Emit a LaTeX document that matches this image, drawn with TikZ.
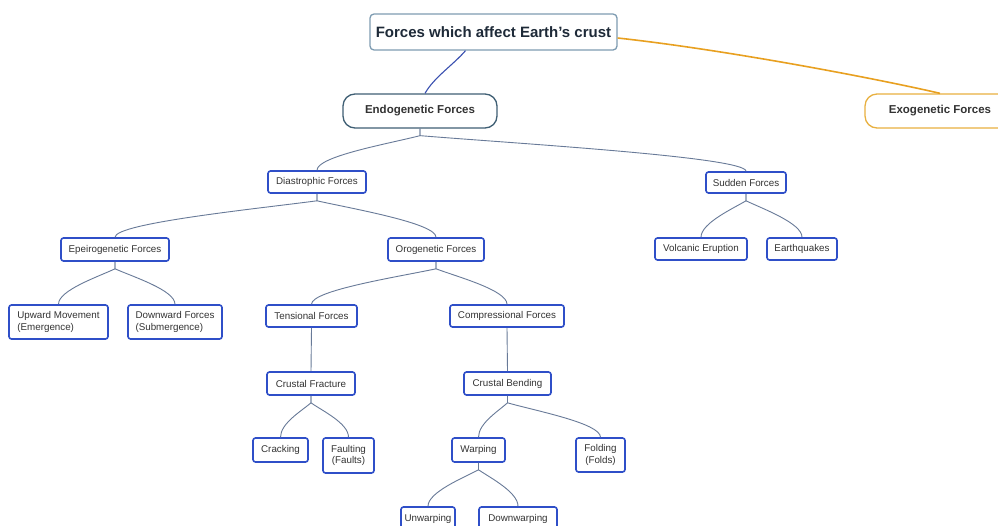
\documentclass[tikz,border=0pt]{standalone}
\usepackage{fontspec}
\setmainfont{Liberation Sans}
\usetikzlibrary{calc}
\definecolor{boxblue}{HTML}{2F4FC8}
\definecolor{linegray}{HTML}{687A98}
\definecolor{rootedge}{HTML}{7E9CB2}
\definecolor{endoedge}{HTML}{3F5F74}
\definecolor{exoedge}{HTML}{E8B040}
\definecolor{exoline}{HTML}{E8A020}
\definecolor{rootline}{HTML}{3A50B0}
\definecolor{txtdark}{HTML}{1E2A38}
\tikzset{
  leaf/.style={draw=boxblue, line width=1.6pt, rounded corners=2.5pt, fill=white,
    inner sep=0pt, text=black!80, font=\fontsize{9.8}{11.5}\selectfont, align=center},
  rootbox/.style={draw=rootedge, line width=1.3pt, rounded corners=4pt, fill=white,
    inner sep=0pt, text=txtdark, font=\fontsize{15}{18}\selectfont\bfseries,
    minimum width=247pt, minimum height=36pt},
  mainbox/.style={line width=1.3pt, rounded corners=12pt, fill=white, inner sep=0pt,
    text=black!80, font=\fontsize{11.5}{14}\selectfont\bfseries,
    minimum height=34pt},
  branch/.style={draw=linegray, line width=0.9pt},
}
\newcommand\branchto[2]{\draw[branch] let \p1=(#1.south), \p2=(#2.north) in
  (\p1) -- (\x1,\y1-7pt) .. controls (\x1+0.3*\x2-0.3*\x1,\y1-15pt) and (\x2,\y2+14pt) .. (\p2);}
\begin{document}
\begin{tikzpicture}[x=1pt,y=1pt]
\useasboundingbox (0,0) rectangle (998,-525);
\fill[white] (0,0) rectangle (998,-525);

% top level
\node[rootbox] (root) at (493.5,-32) {Forces which affect Earth's crust};
\node[mainbox, draw=endoedge, minimum width=154pt] (endo) at (420,-111) {Endogenetic Forces};
\node[mainbox, draw=exoedge, minimum width=150pt] (exo) at (940,-111) {Exogenetic Forces};

% level 2
\node[leaf, minimum width=98pt, minimum height=22pt] (dias) at (317,-182) {Diastrophic Forces};
\node[leaf, minimum width=80pt, minimum height=21pt] (sudd) at (746,-182.5) {Sudden Forces};

% level 3
\node[leaf, minimum width=108pt, minimum height=23pt] (epei) at (115,-249.5) {Epeirogenetic Forces};
\node[leaf, minimum width=96pt, minimum height=23pt] (orog) at (436,-249.5) {Orogenetic Forces};
\node[leaf, minimum width=92pt, minimum height=22pt] (volc) at (701,-249) {Volcanic Eruption};
\node[leaf, minimum width=70pt, minimum height=22pt] (quak) at (802,-249) {Earthquakes};

% level 4
\node[leaf, align=left, minimum width=99pt, minimum height=34pt] (upw) at (58.5,-322) {Upward Movement\\(Emergence)};
\node[leaf, align=left, minimum width=94pt, minimum height=34pt] (down) at (175,-322) {Downward Forces\\(Submergence)};
\node[leaf, minimum width=91pt, minimum height=22pt] (tens) at (311.5,-316) {Tensional Forces};
\node[leaf, minimum width=114pt, minimum height=22pt] (comp) at (507,-316) {Compressional Forces};

% level 5
\node[leaf, minimum width=88pt, minimum height=23pt] (frac) at (311,-383.5) {Crustal Fracture};
\node[leaf, minimum width=87pt, minimum height=23pt] (bend) at (507.5,-383.5) {Crustal Bending};

% level 6
\node[leaf, minimum width=55pt, minimum height=24pt] (crack) at (280.5,-450) {Cracking};
\node[leaf, minimum width=51pt, minimum height=35pt] (fault) at (348.5,-455.5) {Faulting\\(Faults)};
\node[leaf, minimum width=53pt, minimum height=24pt] (warp) at (478.5,-450) {Warping};
\node[leaf, minimum width=49pt, minimum height=34pt] (fold) at (600.5,-455) {Folding\\(Folds)};

% level 7
\node[leaf, minimum width=54pt, minimum height=24pt] (unw) at (428,-519) {Unwarping};
\node[leaf, minimum width=78pt, minimum height=24pt] (dnw) at (518,-519) {Downwarping};

% connectors
\draw[rootline, line width=1.1pt] ($(root.south)+(-28,0)$) .. controls +(-12,-14) and +(9,16) .. ($(endo.north)+(5,0)$);
\draw[exoline, line width=1.6pt] ($(root.east)+(0,-6)$) .. controls +(110,-12) and +(-60,14) .. (exo.north);

\branchto{endo}{dias}
\branchto{endo}{sudd}
\branchto{dias}{epei}
\branchto{dias}{orog}
\branchto{sudd}{volc}
\branchto{sudd}{quak}
\branchto{epei}{upw}
\branchto{epei}{down}
\branchto{orog}{tens}
\branchto{orog}{comp}
\draw[branch] (tens.south) -- (frac.north);
\draw[branch] (comp.south) -- (bend.north);
\branchto{frac}{crack}
\branchto{frac}{fault}
\branchto{bend}{warp}
\branchto{bend}{fold}
\branchto{warp}{unw}
\branchto{warp}{dnw}
\end{tikzpicture}
\end{document}
